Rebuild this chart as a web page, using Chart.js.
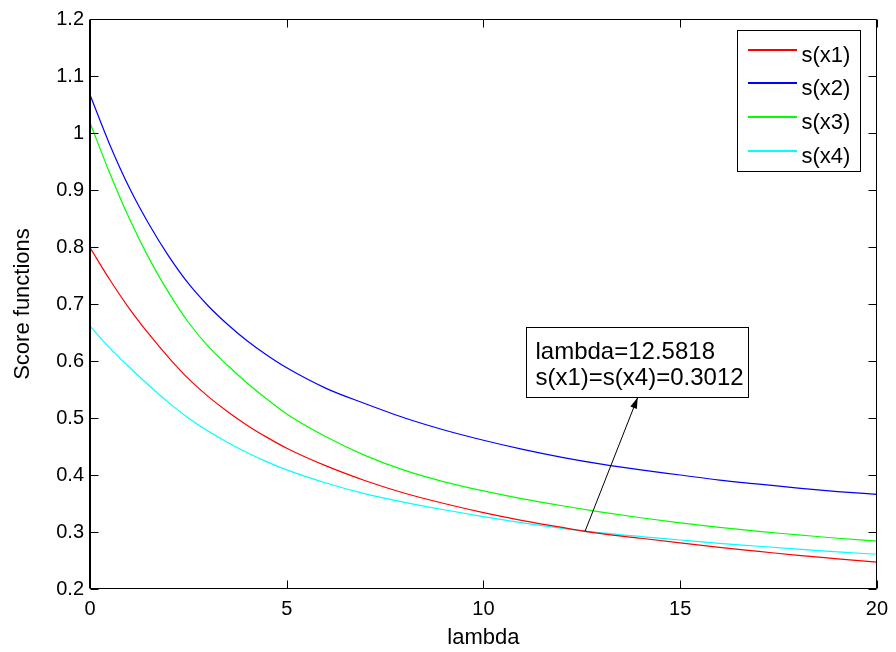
<!DOCTYPE html>
<html><head><meta charset="utf-8">
<script src="https://cdn.jsdelivr.net/npm/chart.js@4.4.1/dist/chart.umd.min.js"></script>
<style>html,body{margin:0;padding:0;background:#fff}#wrap{width:896px;height:652px}</style>
</head><body><div id="wrap"><canvas id="c" width="896" height="652"></canvas></div>
<script>
// ---- data ----
const lambdas = [0,0.5,1,1.5,2,2.5,3,3.5,4,4.5,5,6,7,8,9,10,11,12,13,14,15,16,17,18,19,20];
const s1 = [0.799,0.743,0.692,0.647,0.606,0.569,0.538,0.511,0.487,0.466,0.447,0.416,0.390,0.368,0.350,0.334,0.320,0.308,0.297,0.289,0.281,0.273,0.266,0.259,0.253,0.247];
const s2 = [1.067,0.980,0.904,0.840,0.784,0.736,0.697,0.664,0.635,0.610,0.588,0.552,0.525,0.500,0.479,0.461,0.445,0.431,0.419,0.409,0.400,0.391,0.384,0.377,0.371,0.366];
const s3 = [1.018,0.930,0.850,0.780,0.720,0.668,0.626,0.592,0.561,0.533,0.507,0.467,0.434,0.408,0.388,0.372,0.358,0.346,0.335,0.325,0.316,0.308,0.301,0.295,0.289,0.284];
const s4 = [0.661,0.623,0.589,0.557,0.527,0.500,0.477,0.457,0.439,0.423,0.409,0.386,0.367,0.352,0.339,0.327,0.316,0.3065,0.2985,0.292,0.286,0.280,0.275,0.270,0.265,0.261];
const seriesLabels = ['s(x1)','s(x2)','s(x3)','s(x4)'];
const seriesColors = ['#ff0000','#0000ff','#00ff00','#00ffff'];
const xTicks = [0,5,10,15,20];
const xTickLabels = ['0','5','10','15','20'];
const yTicks = [0.2,0.3,0.4,0.5,0.6,0.7,0.8,0.9,1.0,1.1,1.2];
const yTickLabels = ['0.2','0.3','0.4','0.5','0.6','0.7','0.8','0.9','1','1.1','1.2'];
const xTitle = 'lambda';
const yTitle = 'Score functions';
const annotPoint = {x:12.5818, y:0.3012};
const annotLines = ['lambda=12.5818','s(x1)=s(x4)=0.3012'];
const annotBoxAt = {x:11.09, y:0.66};
const annotTipX = 13.92;

const FONT = "'Liberation Sans', Arial, Helvetica, sans-serif";
const series = [s1,s2,s3,s4];

const framePlugin = {
  id:'frame',
  afterDatasetsDraw(chart){
    const {ctx, chartArea:ca, scales:{x:xs, y:ys}} = chart;
    ctx.save();
    ctx.strokeStyle = '#000'; ctx.lineWidth = 1;
    const L = Math.round(ca.left)+0.5, R = Math.round(ca.right)-0.5, T = Math.round(ca.top)+0.5, B = Math.round(ca.bottom)-0.5;
    ctx.beginPath();
    ctx.rect(L, T, R-L, B-T);
    const tl = 8;
    xTicks.forEach(v=>{
      const p = Math.round(xs.getPixelForValue(v))+0.5;
      ctx.moveTo(p,B); ctx.lineTo(p,B-tl);
      ctx.moveTo(p,T); ctx.lineTo(p,T+tl);
    });
    yTicks.forEach(v=>{
      const p = Math.round(ys.getPixelForValue(v))+0.5;
      ctx.moveTo(L,p); ctx.lineTo(L+tl,p);
      ctx.moveTo(R,p); ctx.lineTo(R-tl,p);
    });
    ctx.stroke();
    ctx.beginPath(); ctx.moveTo(L-1,T); ctx.lineTo(L-1,B); ctx.stroke();
    ctx.restore();
  }
};

const legendPlugin = {
  id:'boxlegend',
  afterDraw(chart){
    const {ctx, chartArea:ca} = chart;
    const w = 123, h = 141;
    const bx = Math.round(ca.right - 17 - w) + 0.5, by = Math.round(ca.top + 11) + 0.5;
    ctx.save();
    ctx.fillStyle = '#ffffff'; ctx.fillRect(bx, by, w, h);
    ctx.strokeStyle = '#000000'; ctx.lineWidth = 1; ctx.strokeRect(bx, by, w, h);
    ctx.font = '22px ' + FONT; ctx.textBaseline = 'alphabetic'; ctx.textAlign = 'left';
    chart.data.datasets.forEach((ds,i)=>{
      const y = Math.round(by + 19 + i*33.7);
      ctx.fillStyle = seriesColors[i];
      ctx.fillRect(Math.round(bx+10), y-1, 49, 2);
      ctx.fillStyle = '#000000';
      ctx.fillText(ds.label, bx+64, y+12);
    });
    ctx.restore();
  }
};

const annotPlugin = {
  id:'annot',
  afterDraw(chart){
    const {ctx, scales:{x:xs, y:ys}} = chart;
    ctx.save();
    ctx.font = '24px ' + FONT;
    const tw = Math.max(...annotLines.map(t=>ctx.measureText(t).width));
    const bx = Math.round(xs.getPixelForValue(annotBoxAt.x))+0.5;
    const by = Math.round(ys.getPixelForValue(annotBoxAt.y))+0.5;
    const bw = Math.round(tw + 14), bh = 70;
    ctx.fillStyle = '#fff'; ctx.fillRect(bx, by, bw, bh);
    ctx.strokeStyle = '#000'; ctx.lineWidth = 1; ctx.strokeRect(bx, by, bw, bh);
    ctx.fillStyle = '#000'; ctx.textBaseline = 'alphabetic'; ctx.textAlign = 'left';
    annotLines.forEach((t,i)=> ctx.fillText(t, bx+9, by+31+i*26));
    // arrow
    const px = xs.getPixelForValue(annotPoint.x), py = ys.getPixelForValue(annotPoint.y);
    const tx = xs.getPixelForValue(annotTipX), ty = by + bh;
    ctx.beginPath(); ctx.moveTo(px,py); ctx.lineTo(tx,ty); ctx.stroke();
    const ang = Math.atan2(ty-py, tx-px);
    const hl = 11, hw = 3.5;
    const bxp = tx - hl*Math.cos(ang), byp = ty - hl*Math.sin(ang);
    ctx.beginPath();
    ctx.moveTo(tx,ty);
    ctx.lineTo(bxp + hw*Math.sin(ang), byp - hw*Math.cos(ang));
    ctx.lineTo(bxp - hw*Math.sin(ang), byp + hw*Math.cos(ang));
    ctx.closePath(); ctx.fill();
    ctx.restore();
  }
};

new Chart(document.getElementById('c').getContext('2d'), {
  type:'line',
  data:{
    datasets: series.map((d,i)=>({
      label: seriesLabels[i],
      data: lambdas.map((x,j)=>({x:x, y:d[j]})),
      borderColor: seriesColors[i],
      backgroundColor: seriesColors[i],
      borderWidth: 1.2,
      pointRadius: 0,
      fill: false,
      cubicInterpolationMode: 'monotone'
    }))
  },
  options:{
    responsive:false, animation:false, devicePixelRatio:1,
    layout:{padding:{left:0, top:19, right:16, bottom:0}},
    plugins:{legend:{display:false}, tooltip:{enabled:false}, title:{display:false}},
    scales:{
      x:{
        type:'linear', min:0, max:20,
        afterBuildTicks: s=>{ s.ticks = xTicks.map(v=>({value:v})); },
        afterFit: s=>{ s.height = 63; },
        grid:{display:false, drawTicks:false},
        border:{display:false},
        ticks:{font:{family:FONT, size:20}, color:'#000', padding:8, maxRotation:0, autoSkip:false,
               callback:(v,i)=>xTickLabels[i]},
        title:{display:true, text:xTitle, color:'#000', font:{family:FONT, size:22}, padding:{top:0, bottom:1}}
      },
      y:{
        type:'linear', min:0.2, max:1.2,
        afterBuildTicks: s=>{ s.ticks = yTicks.map(v=>({value:v})); },
        afterFit: s=>{ s.width = 90; },
        grid:{display:false, drawTicks:false},
        border:{display:false},
        ticks:{font:{family:FONT, size:20}, color:'#000', padding:6, autoSkip:false,
               callback:(v,i)=>yTickLabels[i]},
        title:{display:true, text:yTitle, color:'#000', font:{family:FONT, size:22}, padding:{top:10, bottom:0}}
      }
    }
  },
  plugins:[framePlugin, legendPlugin, annotPlugin]
});
</script>
</body></html>
